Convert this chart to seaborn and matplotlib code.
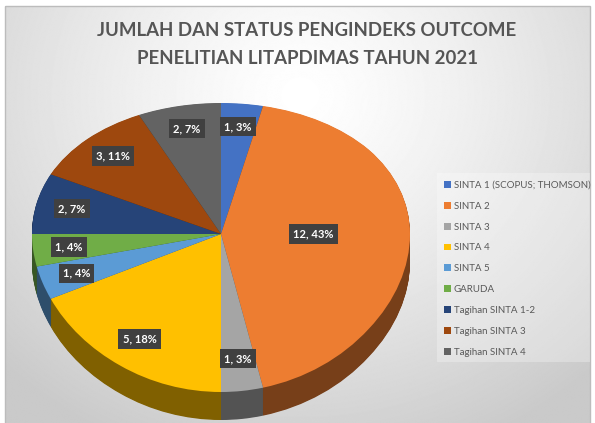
import matplotlib
matplotlib.use("Agg")
import matplotlib.pyplot as plt
import matplotlib.colors as mcolors
from matplotlib.patches import Rectangle
from matplotlib.transforms import Affine2D
import numpy as np
import seaborn as sns

sns.set_theme(style="white")
plt.rcParams["font.family"] = ["Lato", "DejaVu Sans"]

# ── data ────────────────────────────────────────────────────────────────────
categories = ["SINTA 1 (SCOPUS; THOMSON)", "SINTA 2", "SINTA 3", "SINTA 4", "SINTA 5",
              "GARUDA", "Tagihan SINTA 1-2", "Tagihan SINTA 3", "Tagihan SINTA 4"]
counts = [1, 12, 1, 5, 1, 1, 2, 3, 2]
percent_labels = [3, 43, 3, 18, 4, 4, 7, 11, 7]
colors = ["#4472C4", "#ED7D31", "#A5A5A5", "#FFC000", "#5B9BD5",
          "#70AD47", "#264478", "#9E480E", "#636363"]
title_lines = ["JUMLAH DAN STATUS PENGINDEKS OUTCOME", "PENELITIAN LITAPDIMAS TAHUN 2021"]

W, H = 595, 423
fig = plt.figure(figsize=(W / 100, H / 100), dpi=100)

# background: radial grey gradient inside a thin frame
bg = fig.add_axes([0, 0, 1, 1])
bg.set_xlim(0, W)
bg.set_ylim(H, 0)
bg.axis("off")
yy, xx = np.mgrid[0:H, 0:W]
dist = np.sqrt((xx - 300) ** 2 + ((yy - 90) / 0.9) ** 2)
shade = np.clip(dist / 430, 0, 1) ** 1.3
grad = 1.0 - 0.21 * shade
bg.imshow(grad, cmap="gray", vmin=0, vmax=1, extent=(5, 590, H, 6), aspect="auto", zorder=0)
bg.add_patch(Rectangle((5, 6), 585, H, fill=False, edgecolor="#bcbcbc", lw=1, zorder=1))
bg.add_patch(Rectangle((437, 173), 153, 189, facecolor="white", alpha=0.28, lw=0, zorder=1))

for i, line in enumerate(title_lines):
    fig.text(307 / W, 1 - (30 + 29 * i) / H, line, ha="center", va="center",
             fontsize=13.4, fontweight="bold", color="#555555")

# ── 3D-looking pie (tilted disc with simple perspective on the y axis) ──────
cx, cy = 221, 234          # centre of the disc in pixels (from top)
rx = 189                   # horizontal radius, px
r_top, r_bot = 131, 158    # far / near radius, px
b = (r_bot - r_top) / (r_bot + r_top)
a = r_top * (1 + b)        # px per projected unit
depth_px = 28


def fwd(y):
    return y / (1 + b * y)


def inv(u):
    return u / (1 - b * u)


ax = fig.add_axes([0, 0, 1, 1])
ax.patch.set_alpha(0)

side_colors = [tuple(np.array(mcolors.to_rgb(c)) * 0.5) for c in colors]
for k in np.linspace(depth_px, 0.5, 40):
    side, _ = ax.pie(counts, colors=side_colors, startangle=90, counterclock=False,
                     wedgeprops=dict(linewidth=0, antialiased=True))
    for s in side:
        s.set_transform(ax.transData + Affine2D().translate(0, -k))

wedges, _ = ax.pie(counts, colors=colors, startangle=90, counterclock=False,
                   wedgeprops=dict(linewidth=0, antialiased=True))

ax.set_aspect("auto")
ax.set_yscale("function", functions=(fwd, inv))
ax.set_xlim(-cx / rx, (W - cx) / rx)
ax.set_ylim(inv(-(H - cy) / a), inv(cy / a))
ax.axis("off")

# data labels
total = sum(counts)
for wdg, n, p in zip(wedges, counts, percent_labels):
    mid = np.deg2rad((wdg.theta1 + wdg.theta2) / 2)
    r = 0.49 if n / total > 0.3 else 0.81
    ax.text(r * np.cos(mid), r * np.sin(mid), f"{n}, {p}%", ha="center", va="center",
            fontsize=8, fontweight="bold", color="white",
            bbox=dict(boxstyle="square,pad=0.38", facecolor="#404040", edgecolor="none"))

# legend
fig.legend(wedges, categories, loc="upper left", bbox_to_anchor=(439 / W, 1 - 176 / H),
           frameon=False, fontsize=7, labelcolor="#595959", handlelength=0.7,
           handleheight=0.7, handletextpad=0.3, labelspacing=1.22, borderpad=0)

fig.savefig("out.png", dpi=100)
